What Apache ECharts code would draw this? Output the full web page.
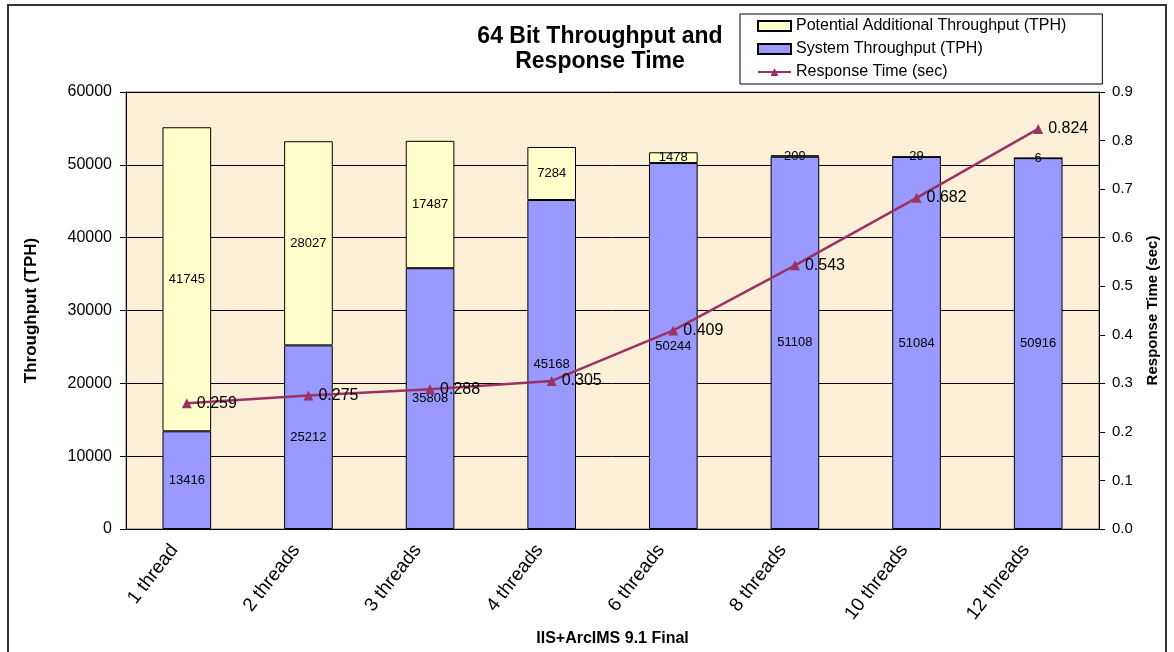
<!DOCTYPE html>
<html>
<head>
<meta charset="utf-8">
<script src="https://cdn.jsdelivr.net/npm/echarts@6/dist/echarts.min.js"></script>
<style>html,body{margin:0;padding:0;background:#fff;}#c{width:1174px;height:652px;}</style>
</head>
<body>
<div id="c"></div>
<script>
var categories = ['1 thread','2 threads','3 threads','4 threads','6 threads','8 threads','10 threads','12 threads'];
var systemThroughput = [13416, 25212, 35808, 45168, 50244, 51108, 51084, 50916];
var potentialAdditional = [41745, 28027, 17487, 7284, 1478, 209, 29, 6];
var responseTime = [0.259, 0.275, 0.288, 0.305, 0.409, 0.543, 0.682, 0.824];

var FONT = 'Liberation Sans, Arial, sans-serif';
var chart = echarts.init(document.getElementById('c'));
chart.setOption({
  animation: false,
  backgroundColor: '#fff',
  textStyle: {fontFamily: FONT},
  title: {
    text: '64 Bit Throughput and\nResponse Time',
    left: 595, top: 19, textAlign: 'center',
    textStyle: {fontSize: 23, fontWeight: 'bold', color: '#000', lineHeight: 25, fontFamily: FONT}
  },
  legend: {
    left: 740, top: 14,
    orient: 'vertical', itemGap: 7, padding: [4, 36, 4, 17],
    backgroundColor: '#fff', borderColor: '#000', borderWidth: 1,
    itemWidth: 33, itemHeight: 10,
    textStyle: {fontSize: 16, color: '#000', fontFamily: FONT},
    data: [
      {name: 'Potential Additional Throughput (TPH)', icon: 'rect'},
      {name: 'System Throughput (TPH)', icon: 'rect'},
      {name: 'Response Time (sec)'}
    ]
  },
  graphic: [{
    type: 'rect', shape: {x: 8, y: 5, width: 1158, height: 660},
    style: {fill: 'none', stroke: '#333', lineWidth: 2}, silent: true, z: -1
  }],
  grid: {left: 126, right: 75, top: 92, bottom: 122, show: true, backgroundColor: '#FBEFD7', borderColor: '#777', borderWidth: 1},
  xAxis: {
    type: 'category', data: categories,
    name: 'IIS+ArcIMS 9.1 Final', nameLocation: 'middle', nameGap: 102,
    nameTextStyle: {fontSize: 16, fontWeight: 'bold', color: '#000', fontFamily: FONT},
    axisLine: {lineStyle: {color: '#000'}},
    axisTick: {lineStyle: {color: '#000'}, length: 5},
    axisLabel: {rotate: 52, fontSize: 19, color: '#000', margin: 2, padding: [0, 20, 0, 0], fontFamily: FONT}
  },
  yAxis: [{
    type: 'value', min: 0, max: 60000, interval: 10000,
    name: 'Throughput (TPH)', nameLocation: 'middle', nameGap: 86, nameRotate: 90,
    nameTextStyle: {fontSize: 17, fontWeight: 'bold', color: '#000', fontFamily: FONT},
    axisLine: {show: true, lineStyle: {color: '#000'}},
    axisTick: {show: true, lineStyle: {color: '#000'}, length: 6},
    axisLabel: {fontSize: 16, color: '#000', margin: 14, fontFamily: FONT, formatter: function(v){return String(v);}},
    splitLine: {show: true, lineStyle: {color: '#000', width: 1}}
  }, {
    type: 'value', min: 0, max: 0.9, interval: 0.1,
    name: 'Response Time (sec)', nameLocation: 'middle', nameGap: 46, nameRotate: 90,
    nameTextStyle: {fontSize: 15, fontWeight: 'bold', color: '#000', fontFamily: FONT},
    axisLine: {show: true, lineStyle: {color: '#000'}},
    axisTick: {show: true, lineStyle: {color: '#000'}, length: 6, inside: false},
    axisLabel: {fontSize: 15, color: '#000', margin: 13, fontFamily: FONT, formatter: function(v){return v.toFixed(1);}},
    splitLine: {show: false}
  }],
  series: [{
    name: 'System Throughput (TPH)', type: 'bar', stack: 't', barWidth: '40%',
    data: systemThroughput,
    itemStyle: {color: '#9999FF', borderColor: '#000', borderWidth: 1},
    label: {show: true, position: 'inside', color: '#000', fontSize: 13, fontFamily: FONT}
  }, {
    name: 'Potential Additional Throughput (TPH)', type: 'bar', stack: 't', barWidth: '40%',
    data: potentialAdditional,
    itemStyle: {color: '#FFFFCC', borderColor: '#000', borderWidth: 1},
    label: {show: true, position: 'inside', color: '#000', fontSize: 13, fontFamily: FONT}
  }, {
    name: 'Response Time (sec)', type: 'line', yAxisIndex: 1,
    data: responseTime,
    symbol: 'triangle', symbolSize: 10,
    lineStyle: {color: '#993366', width: 2.5},
    itemStyle: {color: '#993366'},
    label: {show: true, position: 'right', distance: 5, color: '#000', fontSize: 16, fontFamily: FONT},
    z: 5
  }]
});
</script>
</body>
</html>
